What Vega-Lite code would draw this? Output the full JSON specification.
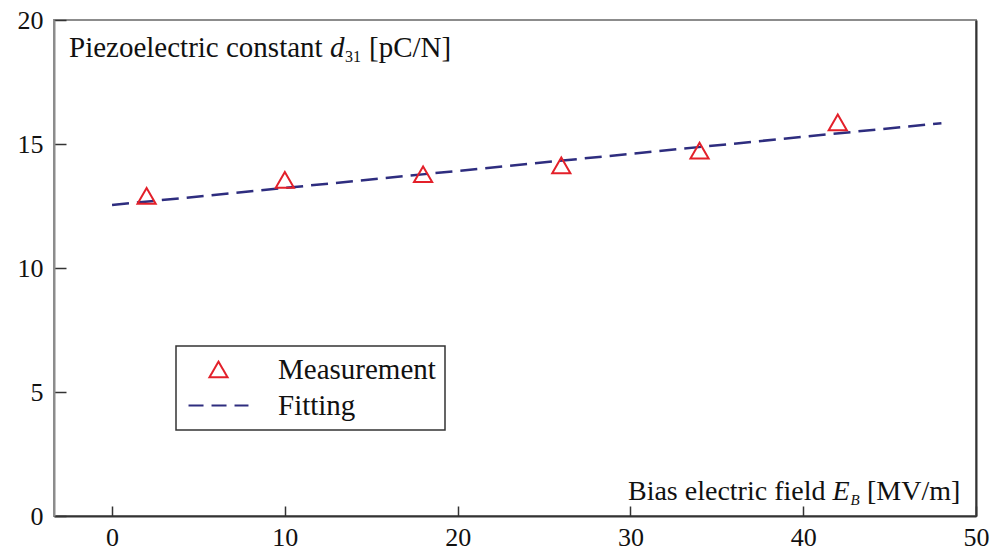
{
  "$schema": "https://vega.github.io/schema/vega-lite/v6.json",
  "width": 922,
  "height": 496,
  "autosize": "none",
  "padding": {"left": 54, "top": 20, "right": 24, "bottom": 37},
  "background": "white",
  "config": {
    "view": {"stroke": "#8c8c8c", "strokeWidth": 2},
    "axis": {"grid": false, "labelFont": "Liberation Serif", "labelFontSize": 26, "labelColor": "#111", "tickColor": "#333", "tickWidth": 1.5, "labelFlush": false},
    "legend": {
      "orient": "none", "legendX": 122, "legendY": 326, "padding": 9, "rowPadding": 6,
      "strokeColor": "#333", "fillColor": "white",
      "labelFont": "Liberation Serif", "labelFontSize": 29, "labelColor": "#111", "labelLimit": 400,
      "symbolOffset": 19, "labelOffset": 45, "symbolSize": 330, "symbolStrokeWidth": 2
    }
  },
  "data": {
    "values": [
      {"E": 2, "d": 12.91, "series": "Measurement"},
      {"E": 10, "d": 13.55, "series": "Measurement"},
      {"E": 18, "d": 13.78, "series": "Measurement"},
      {"E": 26, "d": 14.14, "series": "Measurement"},
      {"E": 34, "d": 14.73, "series": "Measurement"},
      {"E": 42, "d": 15.87, "series": "Measurement"},
      {"E": 0, "d": 12.54, "series": "Fitting"},
      {"E": 48, "d": 15.84, "series": "Fitting"}
    ]
  },
  "layer": [
    {
      "transform": [{"filter": "datum.series === 'Fitting'"}],
      "mark": {"type": "line", "strokeDash": [17, 8], "strokeWidth": 2.5},
      "encoding": {
        "x": {"field": "E", "type": "quantitative", "scale": {"domain": [-3.36, 50], "nice": false, "zero": false},
              "axis": {"values": [0, 10, 20, 30, 40, 50], "tickSize": -10, "labelPadding": 18, "domainColor": "#333", "domainWidth": 2, "title": null}},
        "y": {"field": "d", "type": "quantitative", "scale": {"domain": [0, 20], "nice": false, "zero": false},
              "axis": {"values": [0, 5, 10, 15, 20], "tickSize": -12, "labelPadding": 23, "domainColor": "#8c8c8c", "domainWidth": 2, "title": null}},
        "color": {"field": "series", "type": "nominal", "title": null,
                  "scale": {"domain": ["Measurement", "Fitting"], "range": ["#e3202a", "#2e2d7f"]},
                  "legend": {
                    "title": null,
                    "encode": {
                      "symbols": {"update": {
                        "shape": {"signal": "datum.value === 'Fitting' ? 'M-3.3,0H3.3' : 'triangle-up'"},
                        "strokeDash": {"signal": "datum.value === 'Fitting' ? [15, 8] : [1, 0]"},
                        "stroke": {"signal": "datum.value === 'Fitting' ? '#2e2d7f' : '#e3202a'"},
                        "fill": {"value": "transparent"},
                        "strokeWidth": {"value": 2},
                        "size": {"value": 330},
                        "opacity": {"value": 1}
                      }},
                      "legend": {"update": {"strokeWidth": {"value": 1.5}}}
                    }
                  }}
      }
    },
    {
      "transform": [{"filter": "datum.series === 'Measurement'"}],
      "mark": {"type": "point", "shape": "triangle-up", "filled": false, "size": 330, "strokeWidth": 2, "opacity": 1},
      "encoding": {
        "x": {"field": "E", "type": "quantitative"},
        "y": {"field": "d", "type": "quantitative",
              "axis": {"orient": "right", "labels": false, "ticks": false, "domainColor": "#333", "domainWidth": 2, "title": null}},
        "color": {"field": "series", "type": "nominal"}
      }
    },
    {
      "data": {"values": [{}]},
      "mark": {"type": "text", "text": "Piezoelectric constant", "align": "left", "baseline": "alphabetic", "font": "Liberation Serif", "fontSize": 29, "color": "#111"},
      "encoding": {"x": {"datum": -2.492, "type": "quantitative"}, "y": {"datum": 18.508, "type": "quantitative", "axis": null}}
    },
    {
      "data": {"values": [{}]},
      "mark": {"type": "text", "text": "d", "dx": 261, "align": "left", "baseline": "alphabetic", "font": "Liberation Serif", "fontStyle": "italic", "fontSize": 29, "color": "#111"},
      "encoding": {"x": {"datum": -2.492, "type": "quantitative"}, "y": {"datum": 18.508, "type": "quantitative", "axis": null}}
    },
    {
      "data": {"values": [{}]},
      "mark": {"type": "text", "text": "31", "dx": 276, "dy": 5, "align": "left", "baseline": "alphabetic", "font": "Liberation Serif", "fontSize": 16, "color": "#111"},
      "encoding": {"x": {"datum": -2.492, "type": "quantitative"}, "y": {"datum": 18.508, "type": "quantitative", "axis": null}}
    },
    {
      "data": {"values": [{}]},
      "mark": {"type": "text", "text": "[pC/N]", "dx": 300, "align": "left", "baseline": "alphabetic", "font": "Liberation Serif", "fontSize": 29, "color": "#111"},
      "encoding": {"x": {"datum": -2.492, "type": "quantitative"}, "y": {"datum": 18.508, "type": "quantitative", "axis": null}}
    },
    {
      "data": {"values": [{}]},
      "mark": {"type": "text", "text": "Bias electric field", "align": "left", "baseline": "alphabetic", "font": "Liberation Serif", "fontSize": 28, "color": "#111"},
      "encoding": {"x": {"datum": 29.859, "type": "quantitative"}, "y": {"datum": 0.645, "type": "quantitative", "axis": null}}
    },
    {
      "data": {"values": [{}]},
      "mark": {"type": "text", "text": "E", "dx": 204.5, "align": "left", "baseline": "alphabetic", "font": "Liberation Serif", "fontStyle": "italic", "fontSize": 28, "color": "#111"},
      "encoding": {"x": {"datum": 29.859, "type": "quantitative"}, "y": {"datum": 0.645, "type": "quantitative", "axis": null}}
    },
    {
      "data": {"values": [{}]},
      "mark": {"type": "text", "text": "B", "dx": 222.5, "dy": 5, "align": "left", "baseline": "alphabetic", "font": "Liberation Serif", "fontStyle": "italic", "fontSize": 15, "color": "#111"},
      "encoding": {"x": {"datum": 29.859, "type": "quantitative"}, "y": {"datum": 0.645, "type": "quantitative", "axis": null}}
    },
    {
      "data": {"values": [{}]},
      "mark": {"type": "text", "text": "[MV/m]", "dx": 239, "align": "left", "baseline": "alphabetic", "font": "Liberation Serif", "fontSize": 28, "color": "#111"},
      "encoding": {"x": {"datum": 29.859, "type": "quantitative"}, "y": {"datum": 0.645, "type": "quantitative", "axis": null}}
    }
  ],
  "resolve": {"axis": {"y": "independent"}}
}
